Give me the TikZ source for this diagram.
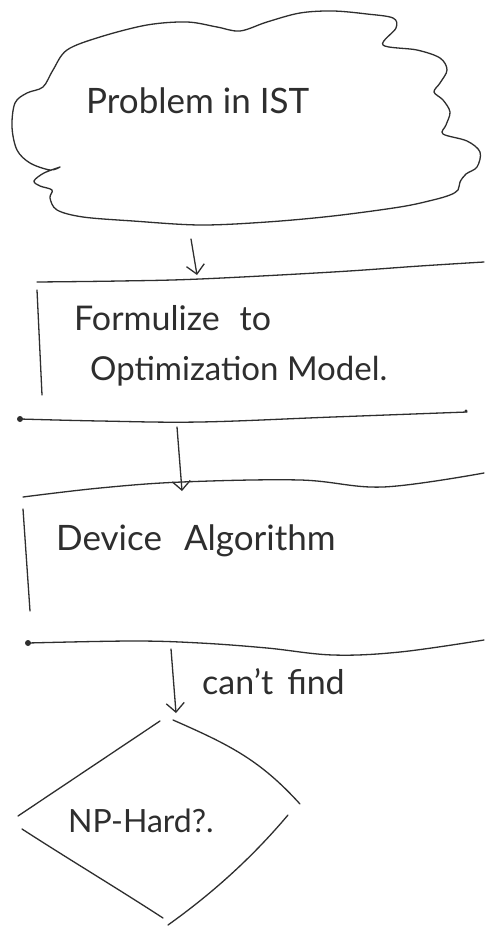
\documentclass[tikz,border=0pt]{standalone}
\usepackage{fontspec}
\setmainfont{Lato}
\usetikzlibrary{arrows.meta}
\definecolor{pen}{HTML}{2E2E2E}
\tikzset{
  ink/.style={draw=pen, line width=1.3pt, line cap=round, line join=round},
  flow/.style={ink, -{Straight Barb[length=9pt,width=18pt,line width=1.3pt]}},
  hand/.style={text=pen, inner sep=0pt, anchor=base west},
}
\begin{document}
\begin{tikzpicture}[x=1pt,y=-1pt]
\useasboundingbox[fill=white] (0,0) rectangle (484,933);

% cloud
\draw[ink] plot[smooth cycle, tension=0.55] coordinates {
 (53,70) (67,50) (100,37) (147,25) (187,22) (217,27) (240,31) (267,22) (300,13)
 (333,11) (367,14) (393,18) (396,28) (383,45) (417,50) (440,58) (447,70) (440,83)
 (434,92) (443,100) (450,112) (446,125) (443,134) (467,141) (480,152) (477,167)
 (466,174) (460,182) (458,190) (450,195) (433,200) (400,207) (333,216) (267,222)
 (200,225) (133,221) (83,217) (57,210) (50,198) (52,190) (40,186) (34,181) (44,173)
 (60,167) (50,170) (30,163) (17,150) (12,127) (15,103) (27,93) (43,87)};
\node[hand, font=\fontsize{35}{40}\selectfont] (prob) at (86,114) {Problem in IST};

% box 1
\draw[ink] plot[smooth, tension=0.6] coordinates {(37,282) (120,281) (200,279) (333,272) (420,266) (484,262)};
\draw[ink] (37,290) -- (42,395);
\draw[ink] plot[smooth, tension=0.6] coordinates {(20,419) (100,421) (200,422) (333,417) (467,412)};
\fill[pen] (20,419) circle (3);
\fill[pen] (466,411) circle (1.6);
\node[hand, font=\fontsize{34}{40}\selectfont] (form1) at (74,330) {Formulize\hspace{20pt}to};
\node[hand, font=\fontsize{33}{40}\selectfont] (form2) at (90,380) {Optimization Model.};

% box 2
\draw[ink] plot[smooth, tension=0.6] coordinates {(23,497) (100,488) (182,482) (300,480) (383,487) (484,473)};
\draw[ink] (23,509) -- (30,611);
\draw[ink] plot[smooth, tension=0.6] coordinates {(28,643) (133,641) (200,643) (267,648) (333,655) (400,652) (484,640)};
\fill[pen] (28,643) circle (3);
\node[hand, font=\fontsize{35}{40}\selectfont] (dev) at (56,550) {Device\hspace{22pt}Algorithm};

% diamond
\draw[ink] (160,721) -- (18,816);
\draw[ink] (173,720) .. controls (230,745) and (260,760) .. (300,804);
\draw[ink] (288,815) .. controls (250,860) and (210,895) .. (168,925);
\draw[ink] (22,829) .. controls (70,860) and (120,890) .. (163,918);
\node[hand, font=\fontsize{32}{38}\selectfont] (np) at (68,832) {NP-Hard?.};

% arrows
\coordinate (a1s) at (191,239);
\coordinate (a1e) at (197,275);
\coordinate (a2s) at (177,427);
\coordinate (a2e) at (182,491);
\coordinate (a3s) at (171,649);
\coordinate (a3e) at (176,713);
\draw[flow] (a1s) -- (a1e);
\draw[flow] (a2s) -- (a2e);
\draw[flow] (a3s) -- (a3e);
\node[hand, font=\fontsize{34}{40}\selectfont] (cf) at (202,694) {can't\hspace{14pt}find};
\end{tikzpicture}
\end{document}
